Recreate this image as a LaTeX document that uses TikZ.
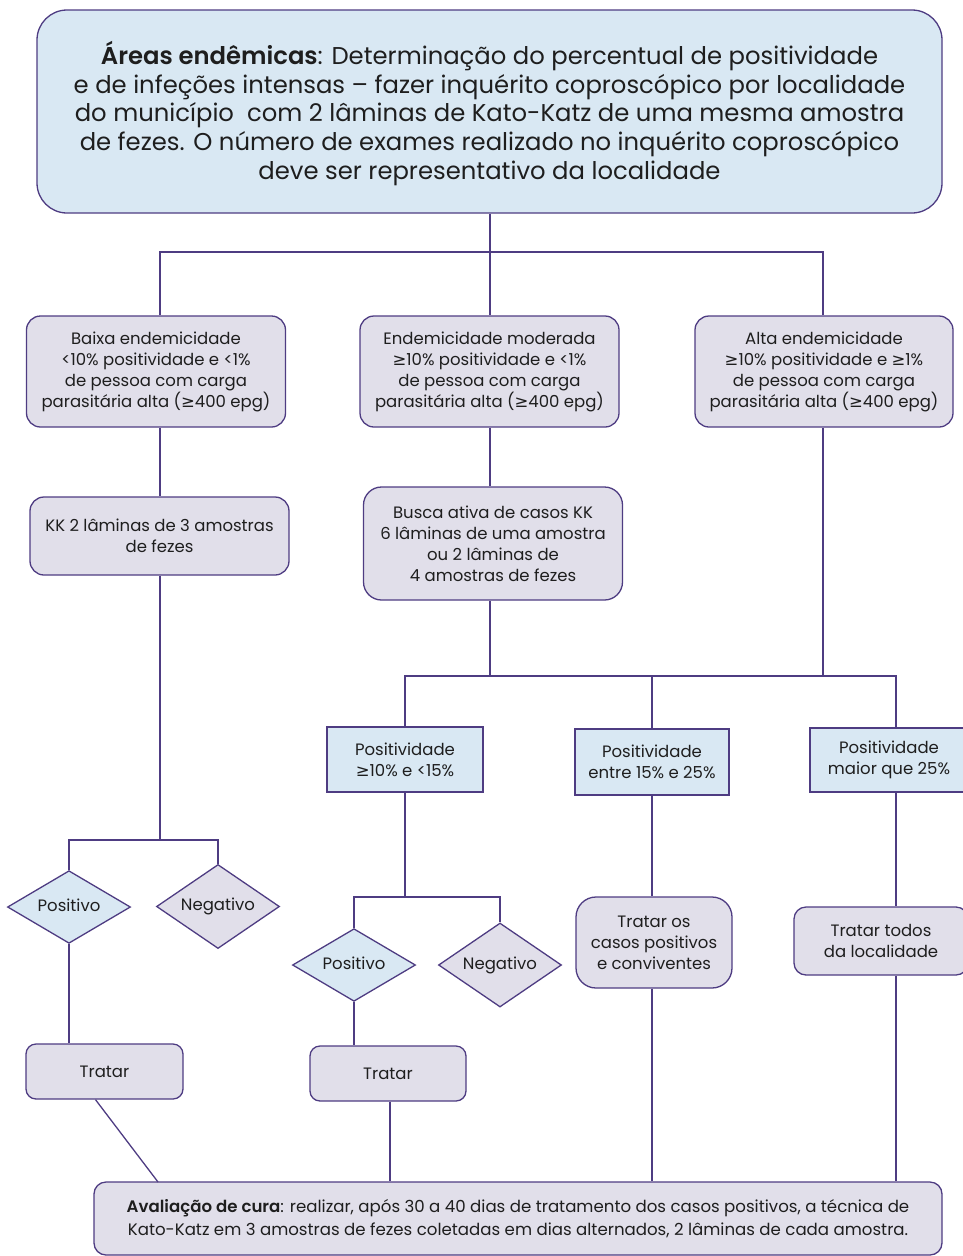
\documentclass[tikz,border=0pt]{standalone}
\usepackage{fontspec}
\setmainfont{Poppins}[BoldFont={Poppins SemiBold}]
\newfontfamily\symf{DejaVu Sans}
\usetikzlibrary{shapes.geometric}
\newcommand\GE{{\symf ≥}}
\definecolor{bd}{HTML}{4E3C82}
\definecolor{lav}{HTML}{E1DFEA}
\definecolor{lblue}{HTML}{D9E8F3}
\definecolor{txt}{HTML}{1E1E1E}
\tikzset{
  base/.style={draw=bd, line width=1.3pt, align=center, inner sep=0pt, text=txt,
    font=\fontsize{16.5}{21}\selectfont},
  rbox/.style={base, fill=lav, rectangle, rounded corners=14pt},
  bbox/.style={base, fill=lblue, rectangle},
  dia/.style={base, diamond, minimum width=123pt, minimum height=66pt, text height=9pt, text depth=1pt},
  dpos/.style={dia, fill=lblue},
  dneg/.style={dia, fill=lav},
  conn/.style={draw=bd, line width=1.3pt},
}
\begin{document}
\begin{tikzpicture}[x=1pt,y=1pt]
\useasboundingbox (0,0) rectangle (963,-1256);
% top
\node[base, fill=lblue, rectangle, rounded corners=30pt, minimum width=905pt, minimum height=203pt,
  font=\fontsize{24.3}{28.8}\selectfont] (top) at (489.5,-111.5)
  {\rule{0pt}{27pt}\textbf{Áreas endêmicas}: Determinação do percentual de positividade\\
   e de infeções intensas – fazer inquérito coproscópico por localidade\\
   do município\ \ com 2 lâminas de Kato-Katz de uma mesma amostra\\
   de fezes. O número de exames realizado no inquérito coproscópico\\
   deve ser representativo da localidade};
% level 1
\node[rbox, minimum width=259pt, minimum height=111pt] (baixa) at (156,-371.5)
  {Baixa endemicidade\\ <10\% positividade e <1\%\\ de pessoa com carga\\ parasitária alta (\GE400 epg)};
\node[rbox, minimum width=259pt, minimum height=111pt] (mod) at (489.5,-371.5)
  {Endemicidade moderada\\ \GE10\% positividade e <1\%\\ de pessoa com carga\\ parasitária alta (\GE400 epg)};
\node[rbox, minimum width=258pt, minimum height=111pt] (alta) at (824,-371.5)
  {Alta endemicidade\\ \GE10\% positividade e \GE1\%\\ de pessoa com carga\\ parasitária alta (\GE400 epg)};
% level 2
\node[rbox, minimum width=259pt, minimum height=78pt] (kk) at (159.5,-536)
  {KK 2 lâminas de 3 amostras\\ de fezes};
\node[rbox, minimum width=259pt, minimum height=113pt, rounded corners=18pt] (busca) at (493,-543.5)
  {Busca ativa de casos KK\\ 6 lâminas de uma amostra\\ ou 2 lâminas de\\ 4 amostras de fezes};
% positividade boxes
\node[bbox, minimum width=156pt, minimum height=65pt] (p1) at (405,-759.5)
  {Positividade\\ \GE10\% e <15\%};
\node[bbox, minimum width=154pt, minimum height=66pt] (p2) at (652,-762)
  {Positividade\\ entre 15\% e 25\%};
\node[bbox, minimum width=158pt, minimum height=64pt] (p3) at (889,-760)
  {Positividade\\ maior que 25\%};
% diamonds
\node[dpos] (posA) at (69,-907) {Positivo};
\node[dneg] (negA) at (218,-906.5) {Negativo};
\node[dpos] (posB) at (354,-965) {Positivo};
\node[dneg] (negB) at (500,-965) {Negativo};
% tratar
\node[rbox, minimum width=157pt, minimum height=55pt, rounded corners=10pt] (tratA) at (104.5,-1071.5) {Tratar};
\node[rbox, minimum width=156pt, minimum height=55pt, rounded corners=10pt] (tratB) at (388,-1073.5) {Tratar};
\node[rbox, minimum width=156pt, minimum height=91pt, rounded corners=20pt] (tratC) at (654,-942.5)
  {Tratar os\\ casos positivos\\ e conviventes};
\node[rbox, minimum width=174pt, minimum height=68pt, rounded corners=12pt] (tratD) at (881,-941)
  {Tratar todos\\ da localidade};
% bottom
\node[rbox, minimum width=848pt, minimum height=73pt, rounded corners=12pt,
  font=\fontsize{16.6}{23}\selectfont] (aval) at (518,-1218.5)
  {\textbf{Avaliação de cura}: realizar, após 30 a 40 dias de tratamento dos casos positivos, a técnica de\\
   Kato-Katz em 3 amostras de fezes coletadas em dias alternados, 2 lâminas de cada amostra.};
% junctions
\coordinate (j1) at (490,-252);
\coordinate (j2) at (490,-676);
\coordinate (j3) at (160,-840);
\coordinate (j4) at (405,-897);
\coordinate (c1) at (160,-252);
\coordinate (c2) at (823,-252);
\coordinate (c3) at (896,-676);
\coordinate (ca) at (158,-1182);
% connectors
\draw[conn] (j1 |- top.south) -- (j1);
\draw[conn] (c1 |- baixa.north) -- (c1) -- (c2) -- (c2 |- alta.north);
\draw[conn] (j1) -- (j1 |- mod.north);
\draw[conn] (c1 |- baixa.south) -- (c1 |- kk.north);
\draw[conn] (j1 |- mod.south) -- (j1 |- busca.north);
\draw[conn] (j1 |- busca.south) -- (j2);
\draw[conn] (c2 |- alta.south) -- (c2 |- j2);
\draw[conn] (p1.north) |- (j2) -- (c3) -- (c3 |- p3.north);
\draw[conn] (j2 -| p2.north) -- (p2.north);
\draw[conn] (c1 |- kk.south) -- (j3);
\draw[conn] (posA.north) |- (j3) -| (negA.north);
\draw[conn] (p1.south) -- (j4);
\draw[conn] (posB.north) |- (j4) -| (negB.north);
\draw[conn] (posA.south) -- (posA.south |- tratA.north);
\draw[conn] (posB.south) -- (posB.south |- tratB.north);
\draw[conn] (p2.south) -- (p2.south |- tratC.north);
\draw[conn] (c3 |- p3.south) -- (c3 |- tratD.north);
\draw[conn] ([xshift=-9pt]tratA.south) -- (ca);
\draw[conn] ([xshift=2pt]tratB.south) -- ([xshift=2pt]tratB.south |- aval.north);
\draw[conn] (p2.south |- tratC.south) -- (p2.south |- aval.north);
\draw[conn] (c3 |- tratD.south) -- (c3 |- aval.north);
\end{tikzpicture}
\end{document}
